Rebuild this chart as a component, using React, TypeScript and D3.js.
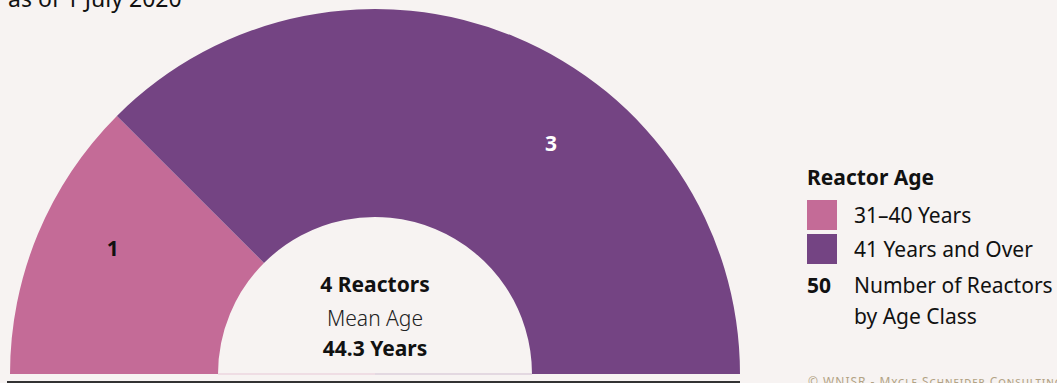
import React from "react";
import * as d3 from "d3";

const categories = ["31–40 Years", "41 Years and Over"];
const values = [1, 3];
const colors = ["#c46b97", "#744483"];
const labelColors = ["#111111", "#ffffff"];
const totalLabel = "4 Reactors";
const meanAgeLabel = "Mean Age";
const meanAgeValue = "44.3 Years";
const subtitle = "as of 1 July 2020";
const legendTitle = "Reactor Age";
const credit = "© WNISR - Mycle Schneider Consulting";

const W = 1057;
const H = 383;
const FONT = "'Noto Sans', 'Open Sans', sans-serif";

export default function App() {
  const cx = 375;
  const cy = 374;
  const outerR = 365;
  const innerR = 157;

  const pie = d3
    .pie<number>()
    .sort(null)
    .startAngle(-Math.PI / 2)
    .endAngle(Math.PI / 2)
    .value((d) => d);
  const arcs = pie(values);
  const arcGen = d3.arc<d3.PieArcDatum<number>>().innerRadius(innerR).outerRadius(outerR);

  const labelFrac = [0.57, 0.61];
  const labelR = [291, 290];

  return (
    <div style={{ position: "fixed", left: 0, top: 0, width: W, height: H, background: "#f7f3f2" }}>
      <svg width={W} height={H} style={{ display: "block", fontFamily: FONT }}>
        <rect x={0} y={0} width={W} height={H} fill="#f7f3f2" />
        <text x={8} y={7} fontSize={23} fill="#111">{subtitle}</text>
        <g transform={`translate(${cx},${cy})`}>
          {arcs.map((a, i) => (
            <path key={i} d={arcGen(a) || ""} fill={colors[i]} />
          ))}
          {arcs.map((a, i) => (
            <line key={"b" + i} x1={i === 0 ? -innerR : 0} x2={i === 0 ? 0 : innerR} y1={0} y2={0} stroke={colors[i]} strokeOpacity={0.2} strokeWidth={1.5} />
          ))}
          {arcs.map((a, i) => {
            const ang = a.startAngle + (a.endAngle - a.startAngle) * labelFrac[i];
            const x = Math.sin(ang) * labelR[i];
            const y = -Math.cos(ang) * labelR[i];
            return (
              <text key={"l" + i} x={x} y={y} textAnchor="middle" dominantBaseline="central" fontSize={21} fontWeight={700} fill={labelColors[i]}>
                {a.data}
              </text>
            );
          })}
          <text x={0} y={-82} textAnchor="middle" fontSize={21} fontWeight={700} fill="#111">{totalLabel}</text>
          <text x={0} y={-48} textAnchor="middle" fontSize={21} fontWeight={300} fill="#222">{meanAgeLabel}</text>
          <text x={0} y={-18} textAnchor="middle" fontSize={21} fontWeight={700} fill="#111">{meanAgeValue}</text>
        </g>
        <line x1={7} x2={740} y1={382} y2={382} stroke="#333" strokeWidth={2} />
        <g>
          <text x={807} y={185} fontSize={21} fontWeight={700} fill="#111">{legendTitle}</text>
          {categories.map((c, i) => (
            <g key={c}>
              <rect x={807} y={200 + i * 34} width={30} height={30} fill={colors[i]} />
              <text x={854} y={223 + i * 34} fontSize={21} fill="#111">{c}</text>
            </g>
          ))}
          <text x={807} y={293} fontSize={21} fontWeight={700} fill="#111">50</text>
          <text x={854} y={293} fontSize={21} fill="#111">Number of Reactors</text>
          <text x={854} y={324} fontSize={21} fill="#111">by Age Class</text>
          <text x={808} y={386} fontSize={12} fill="#b3a385" letterSpacing={1} style={{ fontVariant: "small-caps" }}>{credit}</text>
        </g>
      </svg>
    </div>
  );
}
